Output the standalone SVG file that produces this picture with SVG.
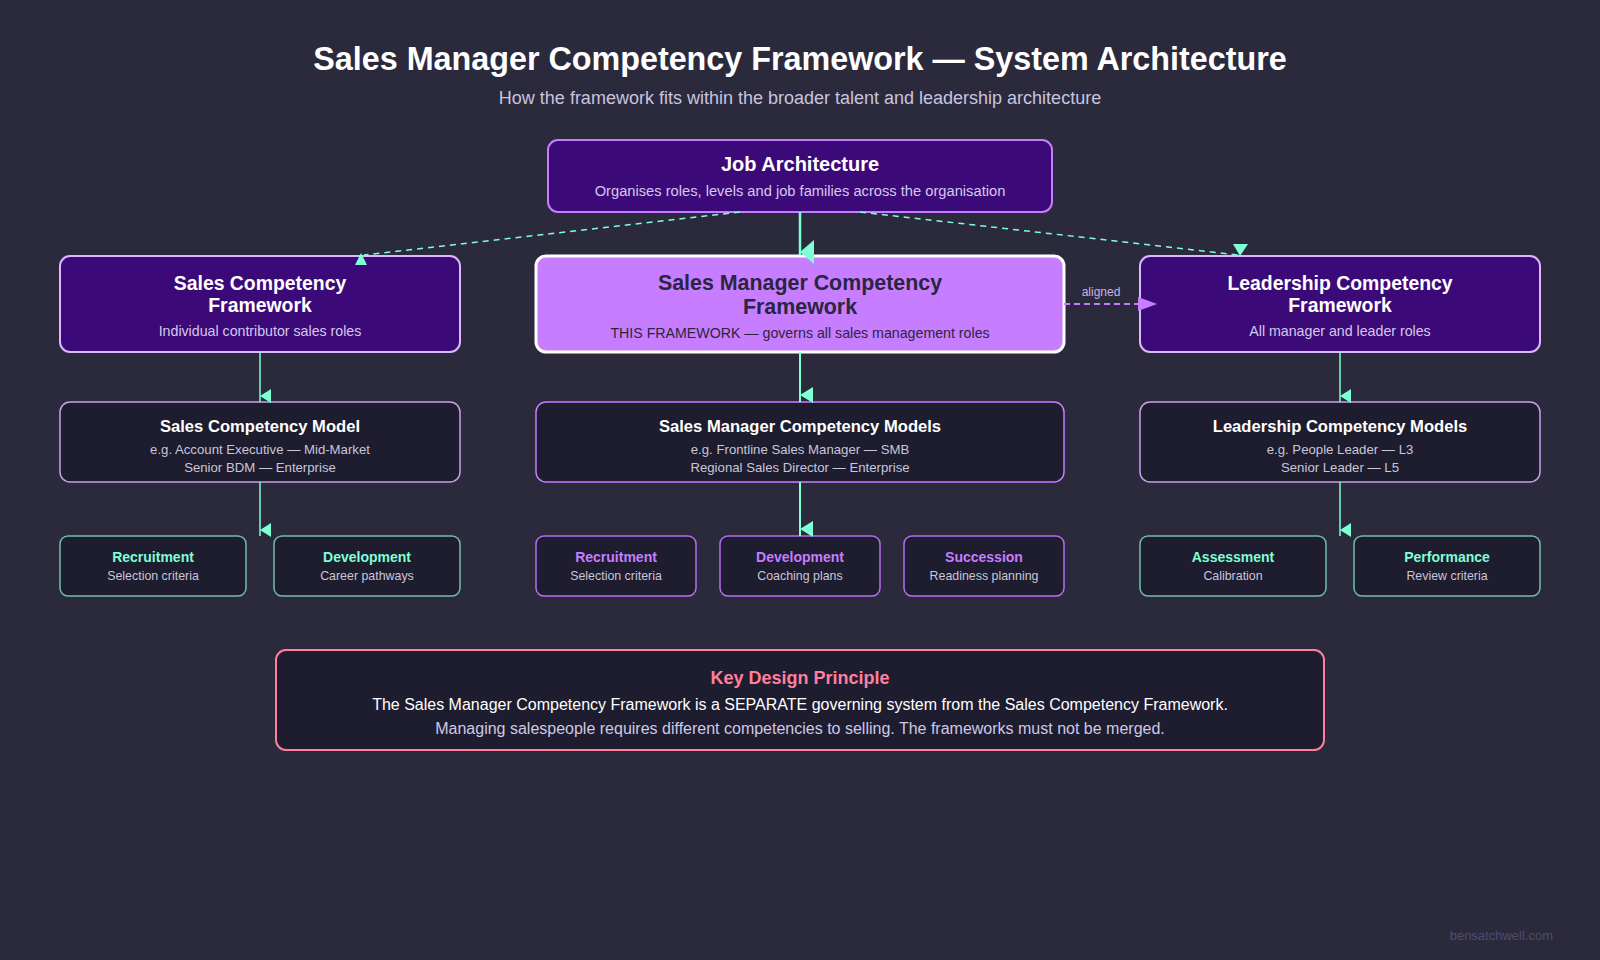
<svg xmlns="http://www.w3.org/2000/svg" width="1600" height="960" viewBox="0 0 1600 960">
<defs>
<style>
text{font-family:"Liberation Sans",Arial,sans-serif;text-anchor:middle}
.bg{fill:#2b2a3d}
.top{fill:#3c0a78;stroke:#c77dff;stroke-width:2}
.fw{fill:#3c0a78;stroke:#dcb8fb;stroke-width:2}
.core{fill:#c77dff;stroke:#ffffff;stroke-width:3}
.model{fill:#1e1c2f;stroke:#c9a0e6;stroke-width:1.5}
.modelc{fill:#1e1c2f;stroke:#c77dff;stroke-width:1.5}
.smt{fill:#1e1c2f;stroke:#6fbfa8;stroke-width:1.5}
.smp{fill:#1e1c2f;stroke:#b86ef0;stroke-width:1.5}
.h1{font-size:32.3px;font-weight:bold;fill:#ffffff}
.sub{font-size:18px;fill:#c9c3df}
.bt{font-size:19.4px;font-weight:bold;fill:#ffffff}
.bs{font-size:14.2px;fill:#d4c8ec}
.ct{font-size:21.4px;font-weight:bold;fill:#2a2540}
.cs{font-size:14.2px;fill:#2a2540}
.mt{font-size:16.6px;font-weight:bold;fill:#ffffff}
.ms{font-size:13.2px;fill:#c9c6d8}
.st{font-size:14px;font-weight:bold;fill:#7fffd4}
.sp{font-size:14px;font-weight:bold;fill:#c77dff}
.ss{font-size:12.4px;fill:#c9c6d8}
.solid{stroke:#7fffd4;fill:none}
.dash{stroke:#7fffd4;stroke-width:1.5;stroke-dasharray:6 5;fill:none}
.al{stroke:#c77dff;stroke-width:2;stroke-dasharray:6 4;fill:none}
.ah{fill:#7fffd4}
.ap{fill:#c77dff}
</style>
</defs>
<rect class="bg" x="0" y="0" width="1600" height="960"/>
<text class="h1" x="800" y="70">Sales Manager Competency Framework — System Architecture</text>
<text class="sub" x="800" y="104">How the framework fits within the broader talent and leadership architecture</text>

<g id="job-architecture">
<rect class="top" x="548" y="140" width="504" height="72" rx="10"/>
<text class="bt" x="800" y="171" style="font-size:20px">Job Architecture</text>
<text class="bs" x="800" y="196" style="font-size:14.7px">Organises roles, levels and job families across the organisation</text>
</g>

<g id="sales-competency-framework">
<rect class="fw" x="60" y="256" width="400" height="96" rx="10"/>
<text class="bt" x="260" y="290">Sales Competency</text>
<text class="bt" x="260" y="312">Framework</text>
<text class="bs" x="260" y="336">Individual contributor sales roles</text>
</g>

<g id="sales-manager-competency-framework">
<rect class="core" x="536" y="256" width="528" height="96" rx="10"/>
<text class="ct" x="800" y="290">Sales Manager Competency</text>
<text class="ct" x="800" y="314">Framework</text>
<text class="cs" x="800" y="338">THIS FRAMEWORK — governs all sales management roles</text>
</g>

<g id="leadership-competency-framework">
<rect class="fw" x="1140" y="256" width="400" height="96" rx="10"/>
<text class="bt" x="1340" y="290">Leadership Competency</text>
<text class="bt" x="1340" y="312">Framework</text>
<text class="bs" x="1340" y="336">All manager and leader roles</text>
</g>

<g id="sales-competency-model">
<rect class="model" x="60" y="402" width="400" height="80" rx="10"/>
<text class="mt" x="260" y="432">Sales Competency Model</text>
<text class="ms" x="260" y="454">e.g. Account Executive — Mid-Market</text>
<text class="ms" x="260" y="472">Senior BDM — Enterprise</text>
</g>

<g id="sales-manager-competency-models">
<rect class="modelc" x="536" y="402" width="528" height="80" rx="10"/>
<text class="mt" x="800" y="432">Sales Manager Competency Models</text>
<text class="ms" x="800" y="454">e.g. Frontline Sales Manager — SMB</text>
<text class="ms" x="800" y="472">Regional Sales Director — Enterprise</text>
</g>

<g id="leadership-competency-models">
<rect class="model" x="1140" y="402" width="400" height="80" rx="10"/>
<text class="mt" x="1340" y="432">Leadership Competency Models</text>
<text class="ms" x="1340" y="454">e.g. People Leader — L3</text>
<text class="ms" x="1340" y="472">Senior Leader — L5</text>
</g>

<g id="sales-recruitment">
<rect class="smt" x="60" y="536" width="186" height="60" rx="8"/>
<text class="st" x="153" y="562">Recruitment</text>
<text class="ss" x="153" y="580">Selection criteria</text>
</g>
<g id="sales-development">
<rect class="smt" x="274" y="536" width="186" height="60" rx="8"/>
<text class="st" x="367" y="562">Development</text>
<text class="ss" x="367" y="580">Career pathways</text>
</g>

<g id="manager-recruitment">
<rect class="smp" x="536" y="536" width="160" height="60" rx="8"/>
<text class="sp" x="616" y="562">Recruitment</text>
<text class="ss" x="616" y="580">Selection criteria</text>
</g>
<g id="manager-development">
<rect class="smp" x="720" y="536" width="160" height="60" rx="8"/>
<text class="sp" x="800" y="562">Development</text>
<text class="ss" x="800" y="580">Coaching plans</text>
</g>
<g id="manager-succession">
<rect class="smp" x="904" y="536" width="160" height="60" rx="8"/>
<text class="sp" x="984" y="562">Succession</text>
<text class="ss" x="984" y="580">Readiness planning</text>
</g>

<g id="leadership-assessment">
<rect class="smt" x="1140" y="536" width="186" height="60" rx="8"/>
<text class="st" x="1233" y="562">Assessment</text>
<text class="ss" x="1233" y="580">Calibration</text>
</g>
<g id="leadership-performance">
<rect class="smt" x="1354" y="536" width="186" height="60" rx="8"/>
<text class="st" x="1447" y="562">Performance</text>
<text class="ss" x="1447" y="580">Review criteria</text>
</g>

<g id="connectors">
<path class="solid" stroke-width="2.5" d="M800,212 V255"/>
<polygon class="ah" points="814,240 814,264 800,252"/>
<path class="dash" d="M740,212 L364,255"/>
<polygon class="ah" points="355,265 367,265 361,253"/>
<path class="dash" d="M860,212 L1238,255"/>
<polygon class="ah" points="1233,244 1248,244 1240,256"/>
<path class="al" d="M1064,304 H1140"/>
<polygon class="ap" points="1138,297 1138,311 1157,304"/>
<text x="1101" y="296" style="font-size:12px;fill:#c9b2e8">aligned</text>
<path class="solid" stroke-width="1.5" d="M260,352 V402"/>
<polygon class="ah" points="271,389 271,403 260,396"/>
<path class="solid" stroke-width="2" d="M800,352 V402"/>
<polygon class="ah" points="813,387 813,403 800,395"/>
<path class="solid" stroke-width="1.5" d="M1340,352 V402"/>
<polygon class="ah" points="1351,389 1351,403 1340,396"/>
<path class="solid" stroke-width="1.5" d="M260,482 V536"/>
<polygon class="ah" points="271,523 271,537 260,530"/>
<path class="solid" stroke-width="2" d="M800,482 V536"/>
<polygon class="ah" points="813,521 813,537 800,529"/>
<path class="solid" stroke-width="1.5" d="M1340,482 V536"/>
<polygon class="ah" points="1351,523 1351,537 1340,530"/>
</g>

<g id="key-design-principle">
<rect x="276" y="650" width="1048" height="100" rx="10" style="fill:#1e1c2f;stroke:#ff7f9c;stroke-width:2"/>
<text x="800" y="684" style="font-size:18px;font-weight:bold;fill:#ff7f9c">Key Design Principle</text>
<text x="800" y="710" style="font-size:16px;fill:#ffffff">The Sales Manager Competency Framework is a SEPARATE governing system from the Sales Competency Framework.</text>
<text x="800" y="734" style="font-size:16px;fill:#d0c8e4">Managing salespeople requires different competencies to selling. The frameworks must not be merged.</text>
</g>

<text x="1553" y="940" style="font-size:13px;fill:#4e4c6e;text-anchor:end">bensatchwell.com</text>
</svg>
